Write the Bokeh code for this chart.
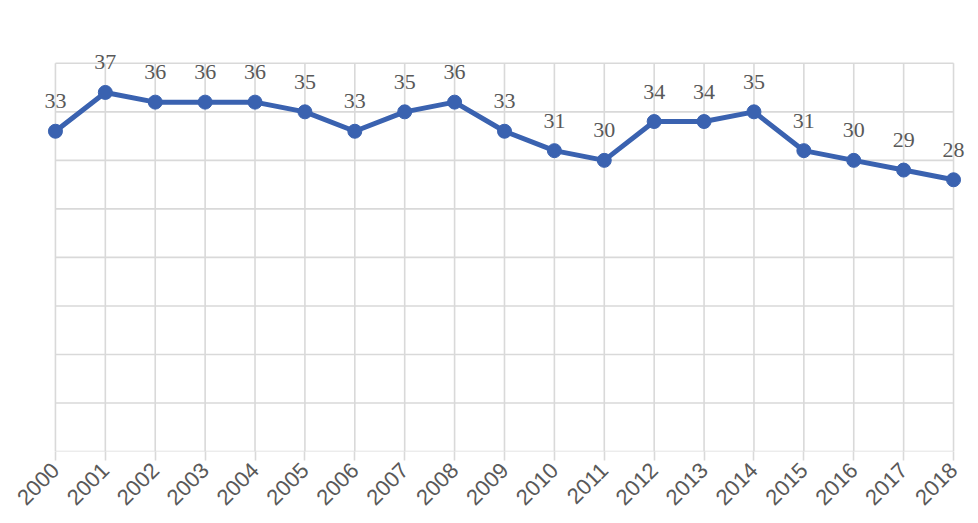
import math
from bokeh.plotting import figure
from bokeh.models import ColumnDataSource, LabelSet, Range1d, FixedTicker
from bokeh.embed import file_html
from bokeh.resources import INLINE

years = [2000, 2001, 2002, 2003, 2004, 2005, 2006, 2007, 2008, 2009,
         2010, 2011, 2012, 2013, 2014, 2015, 2016, 2017, 2018]
values = [33, 37, 36, 36, 36, 35, 33, 35, 36, 33,
          31, 30, 34, 34, 35, 31, 30, 29, 28]
tick_labels = [str(y) for y in years]
y_ticks = [0, 5, 10, 15, 20, 25, 30, 35, 40]

LINE = "#3a62b0"
GRID = "#d9d9d9"
TEXT = "#595959"
FONT = "Liberation Sans"

p = figure(width=970, height=515, output_backend="svg", toolbar_location=None,
           x_range=Range1d(1999.5, 2018.3), y_range=Range1d(0, 44),
           min_border_left=30, min_border_right=2, min_border_top=24, min_border_bottom=64)
p.outline_line_color = None
p.xgrid.visible = False
p.ygrid.visible = False
p.yaxis.visible = False

# grid drawn within the data extent
p.segment(x0=years, x1=years, y0=[y_ticks[0]] * len(years), y1=[y_ticks[-1]] * len(years),
          line_color=GRID, line_width=1.6)
p.segment(x0=[years[0]] * len(y_ticks), x1=[years[-1]] * len(y_ticks), y0=y_ticks, y1=y_ticks,
          line_color=GRID, line_width=1.6)

src = ColumnDataSource(dict(x=years, y=values, label=[str(v) for v in values]))
p.line("x", "y", source=src, line_color=LINE, line_width=5)
p.scatter("x", "y", source=src, size=14, fill_color=LINE, line_color=LINE)

labels = LabelSet(x="x", y="y", text="label", source=src, y_offset=23,
                  text_align="center", text_baseline="alphabetic",
                  text_font=FONT, text_font_size="22px", text_color=TEXT)
p.add_layout(labels)

ax = p.xaxis[0]
ax.ticker = FixedTicker(ticks=years)
ax.major_label_overrides = {y: s for y, s in zip(years, tick_labels)}
ax.major_label_orientation = math.pi / 4
ax.axis_line_color = None
ax.major_tick_line_color = GRID
ax.major_tick_line_width = 1.6
ax.major_tick_in = 0
ax.major_tick_out = 9
ax.minor_tick_line_color = None
ax.major_label_text_font = FONT
ax.major_label_text_font_size = "22px"
ax.major_label_text_color = TEXT
ax.major_label_standoff = 6

open("out.html", "w").write(file_html(p, INLINE))
